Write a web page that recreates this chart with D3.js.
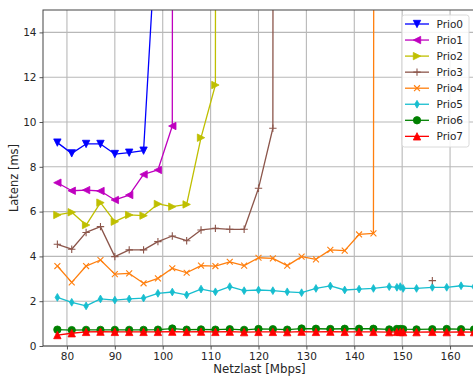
<!DOCTYPE html>
<html>
<head>
<meta charset="utf-8">
<script src="https://cdn.jsdelivr.net/npm/d3@7"></script>
<style>
  html, body { margin: 0; padding: 0; background: #fff; }
  svg { display: block; font-family: "DejaVu Sans", sans-serif; }
</style>
</head>
<body>
<svg id="chart" width="473" height="376"></svg>
<script>
// Load (Mbps) sample points per priority class
const xPrio0 = [78, 81, 84, 87, 90, 93, 96, 99];
const yPrio0 = [9.08, 8.60, 9.02, 9.02, 8.57, 8.63, 8.72, 19.8];

const xPrio1 = [78, 81, 84, 87, 90, 93, 96, 99, 102, 102.2];
const yPrio1 = [7.29, 6.93, 6.96, 6.92, 6.52, 6.74, 7.66, 7.86, 9.82, 60];

const xPrio2 = [78, 81, 84, 87, 90, 93, 96, 99, 102, 105, 108, 111, 111.2];
const yPrio2 = [5.85, 5.97, 5.40, 6.40, 5.55, 5.85, 5.82, 6.34, 6.22, 6.32, 9.30, 11.65, 60];

const xPrio3 = [78, 81, 84, 87, 90, 93, 96, 99, 102, 105, 108, 111, 114, 117, 120, 123, 123.2];
const yPrio3 = [4.54, 4.32, 5.07, 5.33, 3.99, 4.29, 4.29, 4.66, 4.91, 4.70, 5.18, 5.25, 5.21, 5.21, 7.04, 9.72, 60];
// single isolated Prio3 measurement
const xPrio3b = [156.3];
const yPrio3b = [2.92];

const xPrio4 = [78, 81, 84, 87, 90, 93, 96, 99, 102, 105, 108, 111, 114, 117, 120, 123, 126, 129, 132, 135, 138, 141, 144, 144.3];
const yPrio4 = [3.57, 2.84, 3.57, 3.84, 3.21, 3.24, 2.80, 3.02, 3.47, 3.27, 3.59, 3.57, 3.76, 3.59, 3.94, 3.91, 3.59, 3.99, 3.87, 4.29, 4.26, 4.98, 5.03, 60];

const xLow = [78, 81, 84, 87, 90, 93, 96, 99, 102, 105, 108, 111, 114, 117, 120, 123, 126, 129, 132, 135, 138, 141, 144, 147.3, 148.9, 149.6, 150.2, 153, 156.3, 159.3, 162.3, 165];
const yPrio5 = [2.17, 1.95, 1.79, 2.10, 2.05, 2.10, 2.14, 2.35, 2.41, 2.28, 2.54, 2.42, 2.65, 2.47, 2.50, 2.47, 2.42, 2.38, 2.57, 2.68, 2.50, 2.54, 2.57, 2.65, 2.62, 2.65, 2.57, 2.57, 2.62, 2.62, 2.69, 2.65];
const yPrio6 = [0.73, 0.71, 0.72, 0.72, 0.72, 0.72, 0.72, 0.73, 0.78, 0.73, 0.74, 0.73, 0.75, 0.72, 0.76, 0.75, 0.73, 0.78, 0.77, 0.76, 0.77, 0.77, 0.77, 0.74, 0.76, 0.76, 0.75, 0.74, 0.75, 0.76, 0.75, 0.74];
const yPrio7 = [0.49, 0.57, 0.63, 0.64, 0.63, 0.63, 0.63, 0.63, 0.64, 0.63, 0.64, 0.63, 0.64, 0.62, 0.63, 0.63, 0.62, 0.64, 0.63, 0.64, 0.63, 0.63, 0.63, 0.62, 0.63, 0.63, 0.62, 0.62, 0.63, 0.62, 0.63, 0.62];

const seriesNames = ["Prio0", "Prio1", "Prio2", "Prio3", "Prio4", "Prio5", "Prio6", "Prio7"];
const xTicks = [80, 90, 100, 110, 120, 130, 140, 150, 160];
const yTicks = [0, 2, 4, 6, 8, 10, 12, 14];

const series = [
  { name: "Prio0", xs: xPrio0, ys: yPrio0, color: "#0000ff", marker: "v" },
  { name: "Prio1", xs: xPrio1, ys: yPrio1, color: "#bf00bf", marker: "<" },
  { name: "Prio2", xs: xPrio2, ys: yPrio2, color: "#bfbf00", marker: ">" },
  { name: "Prio3", xs: xPrio3, ys: yPrio3, color: "#8c564b", marker: "+" },
  { name: "Prio4", xs: xPrio4, ys: yPrio4, color: "#ff7f0e", marker: "x" },
  { name: "Prio5", xs: xLow, ys: yPrio5, color: "#17becf", marker: "d" },
  { name: "Prio6", xs: xLow, ys: yPrio6, color: "#008000", marker: "o" },
  { name: "Prio7", xs: xLow, ys: yPrio7, color: "#ff0000", marker: "^" }
];
const extraPoints = [{ xs: xPrio3b, ys: yPrio3b, color: "#8c564b", marker: "+" }];

const svg = d3.select("#chart");
const plot = { left: 43, right: 474, top: 10, bottom: 346 };

const x = d3.scaleLinear().domain([75, 165]).range([plot.left, plot.right]);
const y = d3.scaleLinear().domain([0, 15]).range([plot.bottom, plot.top]);

svg.append("defs").append("clipPath").attr("id", "plotclip")
  .append("rect")
  .attr("x", plot.left).attr("y", plot.top)
  .attr("width", plot.right - plot.left).attr("height", plot.bottom - plot.top);

// grid
const grid = svg.append("g");
grid.selectAll(".vg").data(xTicks).join("line")
  .attr("x1", d => x(d)).attr("x2", d => x(d))
  .attr("y1", plot.top).attr("y2", plot.bottom)
  .attr("stroke", "#b8b8b8").attr("stroke-width", 1.1);
grid.selectAll(".hg").data(yTicks).join("line")
  .attr("x1", plot.left).attr("x2", plot.right)
  .attr("y1", d => y(d)).attr("y2", d => y(d))
  .attr("stroke", "#b8b8b8").attr("stroke-width", 1.1);

// marker shapes (size s in px)
function markerPath(m, s) {
  const h = s / 2;
  switch (m) {
    case "v": return `M${-h},${-h}L${h},${-h}L0,${h}Z`;
    case "^": return `M${-h},${h}L${h},${h}L0,${-h}Z`;
    case "<": return `M${h},${-h}L${h},${h}L${-h},0Z`;
    case ">": return `M${-h},${-h}L${-h},${h}L${h},0Z`;
    case "+": return `M${-h},0L${h},0M0,${-h}L0,${h}`;
    case "x": return `M${-h * 0.8},${-h * 0.8}L${h * 0.8},${h * 0.8}M${-h * 0.8},${h * 0.8}L${h * 0.8},${-h * 0.8}`;
    case "d": return `M0,${-h * 1.05}L${h * 0.62},0L0,${h * 1.05}L${-h * 0.62},0Z`;
    case "o": return d3.symbol(d3.symbolCircle, Math.PI * h * h)();
  }
}
const MS = 7.4;
function drawMarker(g, m, color, px, py) {
  const stroked = (m === "+" || m === "x");
  g.append("path")
    .attr("d", markerPath(m, MS))
    .attr("transform", `translate(${px},${py})`)
    .attr("fill", stroked ? "none" : color)
    .attr("stroke", color)
    .attr("stroke-width", stroked ? 1.1 : 0.8);
}

const data = g => g.xs.map((v, i) => [v, g.ys[i]]);
const line = d3.line().x(d => x(d[0])).y(d => y(d[1]));

const marks = svg.append("g").attr("clip-path", "url(#plotclip)");
series.forEach(s => {
  const pts = data(s);
  marks.append("path").datum(pts)
    .attr("d", line)
    .attr("fill", "none")
    .attr("stroke", s.color)
    .attr("stroke-width", 1.3)
    .attr("stroke-linejoin", "round");
  const mg = marks.append("g");
  pts.forEach(p => drawMarker(mg, s.marker, s.color, x(p[0]), y(p[1])));
});
extraPoints.forEach(s => {
  const mg = marks.append("g");
  data(s).forEach(p => drawMarker(mg, s.marker, s.color, x(p[0]), y(p[1])));
});

// axes
const axisColor = "#444";
const xAxis = svg.append("g").attr("transform", `translate(0,${plot.bottom})`)
  .call(d3.axisBottom(x).tickValues(xTicks).tickSize(3.5).tickPadding(3).tickFormat(d3.format("d")));
const yAxis = svg.append("g").attr("transform", `translate(${plot.left},0)`)
  .call(d3.axisLeft(y).tickValues(yTicks).tickSize(3.5).tickPadding(3).tickFormat(d3.format("d")));
[xAxis, yAxis].forEach(a => {
  a.select(".domain").remove();
  a.selectAll(".tick line").attr("stroke", axisColor).attr("stroke-width", 0.9);
  a.selectAll(".tick text").attr("fill", "#262626").attr("font-size", "10.5px")
    .attr("font-family", "DejaVu Sans, sans-serif");
});

// spines
svg.append("rect")
  .attr("x", plot.left).attr("y", plot.top)
  .attr("width", plot.right - plot.left).attr("height", plot.bottom - plot.top)
  .attr("fill", "none").attr("stroke", axisColor).attr("stroke-width", 1);

// axis titles
svg.append("text")
  .attr("x", (plot.left + plot.right) / 2 + 1).attr("y", 373)
  .attr("text-anchor", "middle").attr("font-size", "11.8px").attr("fill", "#262626")
  .text("Netzlast [Mbps]");
svg.append("text")
  .attr("transform", `translate(18,${(plot.top + plot.bottom) / 2}) rotate(-90)`)
  .attr("text-anchor", "middle").attr("font-size", "11.5px").attr("fill", "#262626")
  .text("Latenz [ms]");

// legend
const legend = svg.append("g");
legend.append("rect")
  .attr("x", 402).attr("y", 15).attr("width", 67).attr("height", 132)
  .attr("rx", 2.5)
  .attr("fill", "#fff").attr("fill-opacity", 0.85)
  .attr("stroke", "#d6d6d6").attr("stroke-width", 0.9);
seriesNames.forEach((name, i) => {
  const s = series.find(d => d.name === name);
  const ly = 24 + i * 16.05;
  legend.append("line")
    .attr("x1", 405).attr("x2", 429).attr("y1", ly).attr("y2", ly)
    .attr("stroke", s.color).attr("stroke-width", 1.3);
  drawMarker(legend, s.marker, s.color, 417, ly);
  legend.append("text")
    .attr("x", 436.5).attr("y", ly + 3.8)
    .attr("font-size", "10.5px").attr("fill", "#262626")
    .text(name);
});
</script>
</body>
</html>
